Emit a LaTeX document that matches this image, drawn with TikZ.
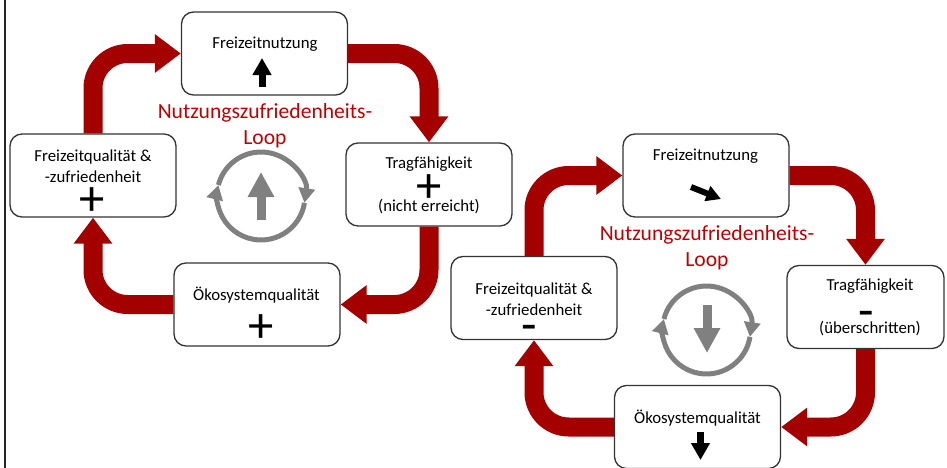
\documentclass[tikz,border=0pt]{standalone}
\usepackage{fontspec}
\setmainfont{Carlito}
\usetikzlibrary{arrows.meta}
\definecolor{schleife}{RGB}{165,0,0}
\definecolor{titelrot}{RGB}{192,0,0}
\definecolor{kreisgrau}{RGB}{128,128,128}

\begin{document}
\begin{tikzpicture}[x=0.75pt, y=0.75pt,
    kasten/.style={draw=black!80, line width=1pt, rounded corners=9pt, fill=white,
                   minimum width=124.5pt, minimum height=62.25pt},
    beschr/.style={font=\fontsize{12.6}{15.75}\selectfont, align=center, inner sep=0pt},
    zeichen/.style={font=\fontsize{38}{38}\selectfont, inner sep=0pt},
    titel/.style={font=\fontsize{16.2}{19.5}\selectfont, text=titelrot, align=center, inner sep=0pt},
    schleifenpfeil/.style={draw=schleife, line width=14.25pt, rounded corners=26pt,
                           -{Triangle[length=19.5pt, width=27.75pt]}},
    kreis/.style={draw=kreisgrau, line width=3.75pt, -{Triangle[length=11pt, width=12pt]}},
    trendgrau/.style={draw=kreisgrau, line width=6.75pt, -{Triangle[length=18.75pt, width=18.75pt]}},
    trend/.style={draw=black, line width=5.25pt, -{Triangle[length=12.75pt, width=13.5pt]}}]
  \useasboundingbox (0,0) rectangle (947,-468);
  \draw[line width=1.9pt, black!85] (5,0) -- (5,-468);

  % linke Schleife
  \node[kasten] (nutzL) at (264.5,-53.5) {};
  \node[kasten] (tragL) at (429,-184.5) {};
  \node[kasten] (oekoL) at (257,-304.5) {};
  \node[kasten] (qualL) at (93,-175.5) {};
  \node[beschr] (nutzLt) at (265,-44.5) {Freizeitnutzung};
  \node[beschr] (tragLt) at (429,-164.5) {Tragfähigkeit};
  \node[zeichen] (tragLz) at (429,-188.5) {+};
  \node[beschr] (tragLu) at (429,-207) {(nicht erreicht)};
  \node[beschr] (oekoLt) at (256.5,-295) {Ökosystemqualität};
  \node[zeichen] (oekoLz) at (261.5,-328.5) {+};
  \node[beschr] (qualLt) at (93,-166.5) {Freizeitqualität \&\\-zufriedenheit};
  \node[zeichen] (qualLz) at (92.5,-201.5) {+};
  \node[titel] (titelL) at (265,-126) {Nutzungszufriedenheits-\\Loop};
  \draw[schleifenpfeil] (qualL.north) |- (nutzL.west);
  \draw[schleifenpfeil] (nutzL.east) -| (tragL.north);
  \draw[schleifenpfeil] (tragL.south) |- (oekoL.east);
  \draw[schleifenpfeil] (oekoL.west) -| (qualL.south);
  \draw[trend] (262,-87) -- (262,-58);
  \coordinate (kreisL) at (261,-196);
  \draw[kreis] (kreisL) ++(-9:44) arc[start angle=-9, end angle=-194.5, radius=44];
  \draw[kreis] (kreisL) ++(165.5:44) arc[start angle=165.5, end angle=-9, radius=44];
  \draw[trendgrau] (261,-220) -- (261,-172);

  % rechte Schleife
  \node[kasten] (nutzR) at (706,-175.5) {};
  \node[kasten, minimum width=117.75pt] (tragR) at (865.5,-307) {};
  \node[kasten] (oekoR) at (697.5,-427) {};
  \node[kasten] (qualR) at (534,-298) {};
  \node[beschr] (nutzRt) at (705.5,-156) {Freizeitnutzung};
  \node[beschr] (tragRt) at (870,-286) {Tragfähigkeit};
  \node[zeichen] (tragRz) at (866,-319) {-};
  \node[beschr] (tragRu) at (870,-328.5) {(überschritten)};
  \node[beschr] (oekoRt) at (697.5,-418) {Ökosystemqualität};
  \node[beschr] (qualRt) at (534,-299.5) {Freizeitqualität \&\\-zufriedenheit};
  \node[zeichen] (qualRz) at (529,-333) {-};
  \node[titel] (titelR) at (707,-248) {Nutzungszufriedenheits-\\Loop};
  \draw[schleifenpfeil] (qualR.north) |- (nutzR.west);
  \draw[schleifenpfeil] (nutzR.east) -| (tragR.north);
  \draw[schleifenpfeil] (tragR.south) |- (oekoR.east);
  \draw[schleifenpfeil] (oekoR.west) -| (qualR.south);
  \draw[trend, line width=4.5pt, -{Triangle[length=11pt, width=11.5pt]}] (691,-187) -- (721,-199);
  \draw[trend] (700.5,-432) -- (700.5,-460);
  \coordinate (kreisR) at (706.5,-330);
  \draw[kreis] (kreisR) ++(-9:44) arc[start angle=-9, end angle=-194.5, radius=44];
  \draw[kreis] (kreisR) ++(165.5:44) arc[start angle=165.5, end angle=-9, radius=44];
  \draw[trendgrau] (707,-305) -- (707,-353);
\end{tikzpicture}
\end{document}
